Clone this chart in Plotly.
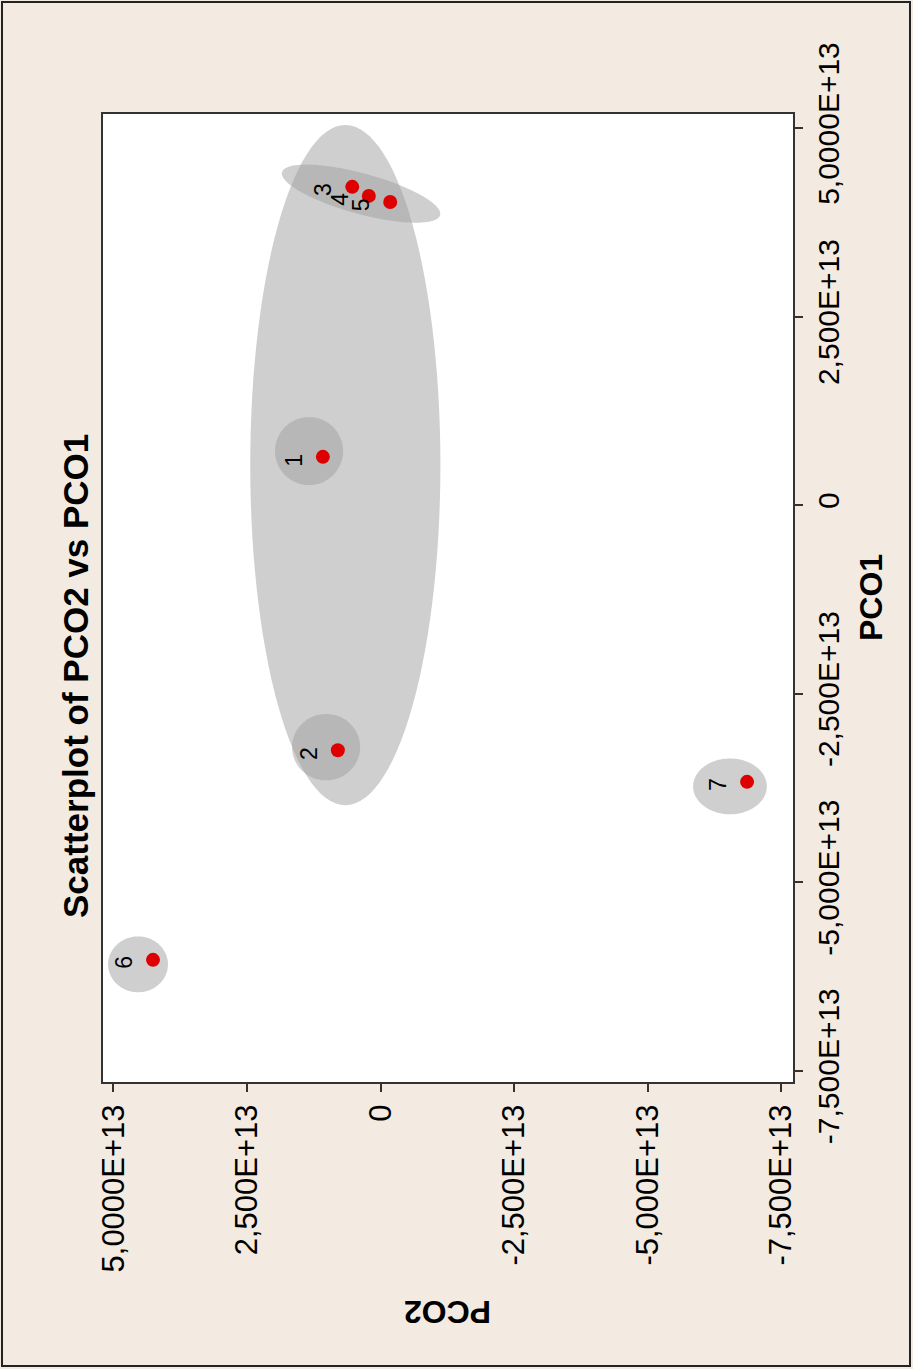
import numpy as np
import plotly.graph_objects as go

# ---- data (units of 1e13) ----
labels = ["1", "2", "3", "4", "5", "6", "7"]
pco1 = [0.64, -3.25, 4.22, 4.10, 4.02, -6.03, -3.67]
pco2 = [1.08, 0.80, 0.53, 0.22, -0.18, 4.26, -6.86]

tick_vals = [-7.5, -5.0, -2.5, 0.0, 2.5, 5.0]
tick_text = ["-7,500E+13", "-5,000E+13", "-2,500E+13", "0", "2,500E+13", "5,0000E+13"]

# grouping ellipses: centre (pco2, pco1), semi-axis vectors u, v (data units)
ell_cx = [0.66, 1.339, 1.02, 4.54, -6.54, 0.365]
ell_cy = [0.53, 0.716, -3.21, -6.09, -3.73, 4.13]
ell_ux = [1.78, 0.637, 0.637, 0.56, 0.69, -1.479]
ell_uy = [0.0, 0.0, 0.0, 0.0, 0.0, -0.285]
ell_vx = [0.0, 0.0, 0.0, 0.0, 0.0, 0.10]
ell_vy = [4.51, 0.451, 0.44, 0.37, 0.37, -0.26]

S = 1e13
x = [v * S for v in pco2]
y = [v * S for v in pco1]

fig = go.Figure()

t = np.linspace(0, 2 * np.pi, 121)
shapes = []
for cx, cy, ux, uy, vx, vy in zip(ell_cx, ell_cy, ell_ux, ell_uy, ell_vx, ell_vy):
    px = (cx + ux * np.cos(t) + vx * np.sin(t)) * S
    py = (cy + uy * np.cos(t) + vy * np.sin(t)) * S
    path = "M " + " L ".join(f"{a:.6g},{b:.6g}" for a, b in zip(px, py)) + " Z"
    shapes.append(dict(type="path", xref="x", yref="y", path=path,
                       fillcolor="rgba(160,160,160,0.5)", line=dict(width=0),
                       layer="below"))

fig.add_trace(go.Scatter(x=x, y=y, mode="markers",
                         marker=dict(color="rgb(222,0,0)", size=14,
                                     line=dict(width=0)),
                         showlegend=False, hoverinfo="skip"))

annotations = []
for lab, xv, yv in zip(labels, x, y):
    annotations.append(dict(x=xv, y=yv, xref="x", yref="y", text=lab,
                            showarrow=False, textangle=-90, xshift=-29, yshift=-3,
                            font=dict(family="Arial, Liberation Sans", size=23, color="black")))

W, H = 913, 1369
L, R, T, B = 103, 120, 114, 287
pw, ph = W - L - R, H - T - B


def px2paper(X, Y):
    return (X - L) / pw, (H - B - Y) / ph


tx, ty = px2paper(75, 676)
annotations.append(dict(x=tx, y=ty, xref="paper", yref="paper",
                        text="<b>Scatterplot of PCO2 vs PCO1</b>", showarrow=False,
                        textangle=-90, xanchor="center", yanchor="middle",
                        font=dict(family="Arial, Liberation Sans", size=35, color="black")))
ax1, ay1 = px2paper(871, 598)
annotations.append(dict(x=ax1, y=ay1, xref="paper", yref="paper",
                        text="<b>PCO1</b>", showarrow=False, textangle=-90,
                        xanchor="center", yanchor="middle",
                        font=dict(family="Arial, Liberation Sans", size=32, color="black")))
ax2, ay2 = px2paper(448, 1312)
annotations.append(dict(x=ax2, y=ay2, xref="paper", yref="paper",
                        text="<b>PCO2</b>", showarrow=False, textangle=180,
                        xanchor="center", yanchor="middle",
                        font=dict(family="Arial, Liberation Sans", size=32, color="black")))

bx0, by0 = px2paper(2, 1366)
bx1, by1 = px2paper(910, 2)
shapes.append(dict(type="rect", xref="paper", yref="paper", x0=bx0, y0=by0, x1=bx1, y1=by1,
                   line=dict(color="#222222", width=2), fillcolor="rgba(0,0,0,0)", layer="above"))

axis_common = dict(showgrid=False, zeroline=False, showline=True, mirror=True,
                   linecolor="#333333", linewidth=2, ticks="outside", ticklen=8,
                   tickwidth=1.5, tickcolor="#333333", tickangle=-90,
                   tickvals=[v * S for v in tick_vals], ticktext=tick_text)

fig.update_layout(
    width=W, height=H,
    margin=dict(l=L, r=R, t=T, b=B),
    paper_bgcolor="#f3ebe1", plot_bgcolor="white",
    shapes=shapes, annotations=annotations,
    xaxis=dict(range=[5.196 * S, -7.72 * S],
               tickfont=dict(family="Arial, Liberation Sans", size=31, color="black"),
               **axis_common),
    yaxis=dict(range=[-7.65 * S, 5.186 * S], side="right",
               tickfont=dict(family="Arial, Liberation Sans", size=30, color="black"),
               **axis_common),
)

fig.write_html("out.html")
